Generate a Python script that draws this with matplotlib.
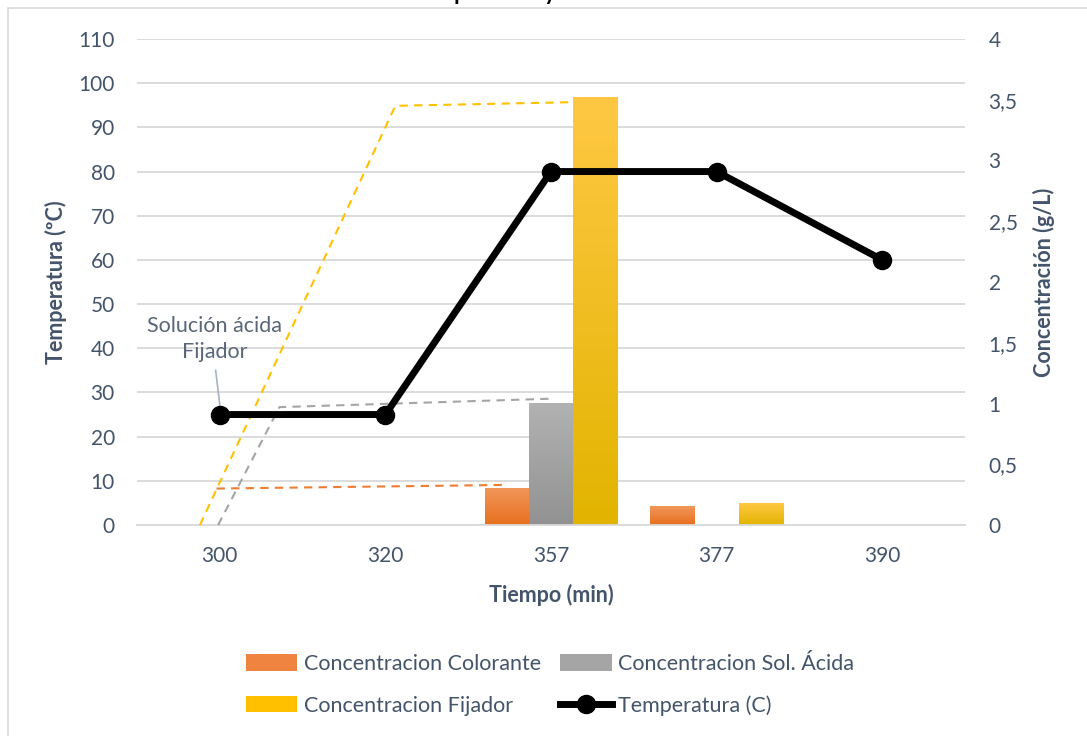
import matplotlib
matplotlib.use("Agg")
import matplotlib.pyplot as plt
import numpy as np
from matplotlib.patches import Patch, Rectangle
from matplotlib.lines import Line2D
from matplotlib.colors import LinearSegmentedColormap

plt.rcParams['font.family'] = ['Lato', 'DejaVu Sans']

# --- data -----------------------------------------------------------------
tiempo = ['300', '320', '357', '377', '390']
temperatura = [25, 25, 80, 80, 60]
conc_colorante = [0, 0, 0.30, 0.15, 0]
conc_acida = [0, 0, 1.00, 0.0, 0]
conc_fijador = [0, 0, 3.52, 0.18, 0]

# dashed guide lines (category position, g/L)
guia_colorante_x = [-0.02, 1.74]
guia_colorante_y = [0.30, 0.33]
guia_acida_x = [-0.01, 0.36, 2.01]
guia_acida_y = [0.0, 0.97, 1.04]
guia_fijador_x = [-0.12, 1.06, 2.12]
guia_fijador_y = [0.0, 3.45, 3.48]

temp_ticks = list(range(0, 111, 10))
conc_ticks = [0, 0.5, 1, 1.5, 2, 2.5, 3, 3.5, 4]

TXT = '#44546A'
GRID = '#D9D9D9'

fig = plt.figure(figsize=(10.87, 7.36), dpi=100)
ax_c = fig.add_axes([137 / 1087, 1 - 525 / 736, 828 / 1087, 486 / 736])
ax_t = ax_c.twinx()

x = np.arange(len(tiempo))
ax_c.set_xlim(-0.5, len(tiempo) - 0.5)
ax_c.set_ylim(0, 4)
ax_t.set_ylim(0, 110)

# horizontal grid at the temperature ticks, drawn under the bars
escala = 4 / 110
ax_c.hlines([t * escala for t in temp_ticks], -0.5, len(tiempo) - 0.5,
            color=GRID, lw=1.3, zorder=0)


def barra_gradiente(ax, x0, ancho, alto, c_top, c_bot):
    if alto <= 0:
        return
    cmap = LinearSegmentedColormap.from_list('g', [c_bot, c_top])
    grad = np.linspace(0, 1, 256).reshape(-1, 1)
    ax.imshow(grad, cmap=cmap, origin='lower', aspect='auto',
              extent=(x0, x0 + ancho, 0, alto), zorder=2)


w = 0.267
series = [
    (conc_colorante, -w, '#F19659', '#E8701F'),
    (conc_acida, 0, '#B2B2B2', '#929292'),
    (conc_fijador, w, '#FFC844', '#E2B400'),
]
for vals, off, c_top, c_bot in series:
    for xi, v in zip(x, vals):
        barra_gradiente(ax_c, xi + off - w / 2, w, v, c_top, c_bot)

ax_c.set_xlim(-0.5, len(tiempo) - 0.5)
ax_c.set_ylim(0, 4)

dash = (0, (4, 3))
ax_c.plot(guia_colorante_x, guia_colorante_y, color='#ED7D31', lw=1.5, ls=dash, zorder=3, clip_on=False)
ax_c.plot(guia_acida_x, guia_acida_y, color='#A5A5A5', lw=1.5, ls=dash, zorder=3, clip_on=False)
ax_c.plot(guia_fijador_x, guia_fijador_y, color='#FFC000', lw=1.5, ls=dash, zorder=3, clip_on=False)

# temperature line on the top axes
ax_t.plot(x, temperatura, color='black', lw=5, marker='o', markersize=13,
          solid_capstyle='round', zorder=5)

# axes styling
for a in (ax_c, ax_t):
    for s in a.spines.values():
        s.set_visible(False)
ax_c.spines['bottom'].set_visible(True)
ax_c.spines['bottom'].set_color(GRID)
ax_c.spines['bottom'].set_linewidth(1.3)

ax_t.yaxis.tick_left()
ax_t.yaxis.set_label_position('left')
ax_c.yaxis.tick_right()
ax_c.yaxis.set_label_position('right')

ax_t.set_yticks(temp_ticks)
ax_c.set_yticks(conc_ticks)
ax_c.set_yticklabels([f'{v:g}'.replace('.', ',') for v in conc_ticks])
ax_c.set_xticks(x)
ax_c.set_xticklabels(tiempo)

ax_t.tick_params(axis='y', length=0, pad=16, labelsize=15, labelcolor=TXT)
ax_c.tick_params(axis='y', length=0, pad=17, labelsize=15, labelcolor=TXT)
ax_c.tick_params(axis='x', length=0, pad=15, labelsize=15, labelcolor=TXT)

ax_t.set_ylabel('Temperatura (ºC)', fontsize=15.5, fontweight='bold', color=TXT)
ax_t.yaxis.set_label_coords(-0.084, 0.5)
ax_c.set_ylabel('Concentración (g/L)', fontsize=15.5, fontweight='bold', color=TXT)
ax_c.yaxis.set_label_coords(1.082, 0.5)
ax_c.set_xlabel('Tiempo (min)', fontsize=15.5, fontweight='bold', color=TXT)
ax_c.xaxis.set_label_coords(0.5, -0.122)

# callout
ax_t.text(-0.03, 42.1, 'Solución ácida\nFijador', ha='center', va='center',
          fontsize=15.5, color='#596779', linespacing=1.4, zorder=6)
ax_t.plot([-0.025, 0.005], [35.0, 25.6], color='#A6B2C2', lw=1.2, zorder=4)

# legend
handles = [
    Patch(facecolor='#EE8440', label='Concentracion Colorante'),
    Patch(facecolor='#FFC000', label='Concentracion Fijador'),
    Patch(facecolor='#A5A5A5', label='Concentracion Sol. Ácida'),
    Line2D([], [], color='black', lw=5, marker='o', markersize=13, label='Temperatura (C)'),
]
leg = fig.legend(handles=handles, ncol=2, loc='center', bbox_to_anchor=(0.506, 0.069),
                 frameon=False, fontsize=15.5, handlelength=2.4, handleheight=0.8,
                 handletextpad=0.3, columnspacing=0.9, labelspacing=1.0)
for t in leg.get_texts():
    t.set_color(TXT)

# chart title, sits at the very top edge
fig.text(410 / 1087, 1.0, 'Temperatura y Concentración', ha='left', va='baseline',
         fontsize=16, fontweight='bold', color='black')

# outer chart frame
fig.patches.append(Rectangle((8 / 1087, -0.1), 1.2, 1.1 - 8 / 736, fill=False,
                             edgecolor=GRID, lw=1.2, transform=fig.transFigure))

fig.savefig('out.png', dpi=100)
